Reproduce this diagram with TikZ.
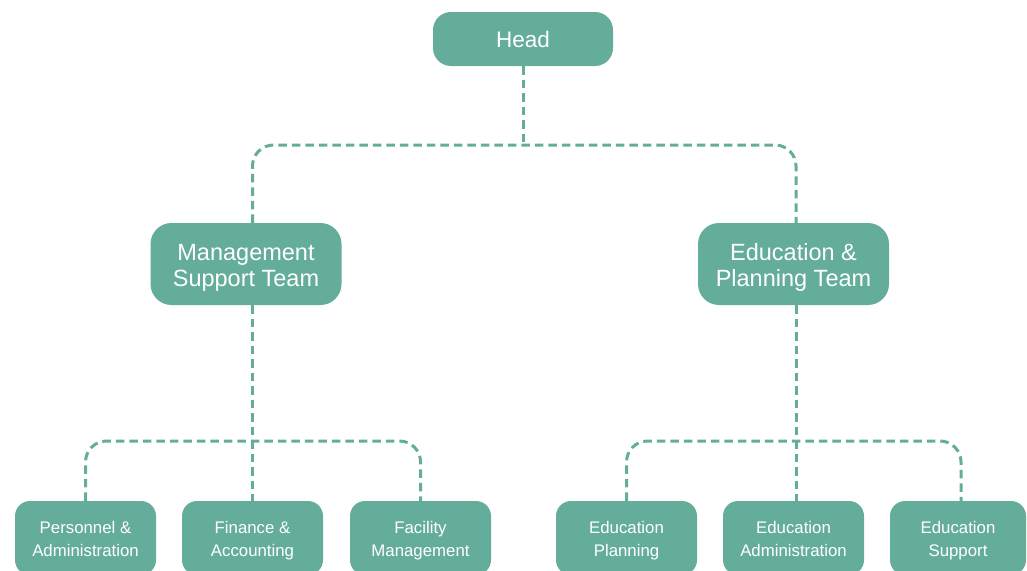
\documentclass[tikz,border=0pt]{standalone}
\usepackage{fontspec}
\setmainfont{Liberation Sans}
\definecolor{teal1}{RGB}{100,173,155}
\newcommand\tS[1]{\rule{0pt}{#1pt}}
\newcommand\bS[1]{\rule[-#1pt]{0pt}{#1pt}}
\begin{document}
\begin{tikzpicture}[x=1pt,y=-1pt,
  box/.style={fill=teal1,text=white,draw=none,inner sep=0pt,align=center},
  bigbox/.style={box,rounded corners=21pt,minimum width=191pt,minimum height=82pt,font=\fontsize{23.5}{26}\selectfont},
  headbox/.style={box,rounded corners=18pt,minimum width=180pt,minimum height=54pt,font=\fontsize{22.5}{26}\selectfont},
  smallbox/.style={box,rounded corners=15pt,minimum width=141pt,minimum height=74pt,font=\fontsize{16.8}{23.5}\selectfont},
  conn/.style={draw=teal1,line width=3pt,dash pattern=on 8.5pt off 5pt}]
\useasboundingbox (0,0) rectangle (1027,570);
\clip (0,0) rectangle (1027,570);
\node[headbox] (head) at (523,39) {Head};
\node[bigbox] (mgmt) at (246,264) {\tS{25.4}Management\\Support Team\bS{6}};
\node[bigbox] (edu) at (793.5,264) {\tS{25.4}Education \&\\Planning Team\bS{6}};
\node[smallbox] (pers) at (85.5,538) {\tS{17.5}Personnel \&\\Administration\bS{4}};
\node[smallbox] (fin) at (252.5,538) {\tS{17.5}Finance \&\\Accounting\bS{4}};
\node[smallbox] (fac) at (420.5,538) {\tS{17.5}Facility\\Management\bS{4}};
\node[smallbox] (eplan) at (626.5,538) {\tS{17.5}Education\\Planning\bS{4}};
\node[smallbox] (eadm) at (793.5,538) {\tS{17.5}Education\\Administration\bS{4}};
\node[smallbox, minimum width=136pt] (esup) at (958,538) {\tS{17.5}Education\\Support\bS{4}};
\coordinate (j1) at (523,145);
\coordinate (j2) at (0,441);
\coordinate (ea) at ([xshift=2.5pt]eadm.north);
\coordinate (es) at ([xshift=3pt]esup.north);
\draw[conn] (head.south) -- (j1);
\draw[conn,rounded corners=21pt] (fin.north |- mgmt.north) |- (ea |- j1) -- (ea |- edu.north);
\draw[conn] (fin.north |- mgmt.south) -- (fin.north);
\draw[conn] (ea |- edu.south) -- (ea);
\draw[conn,rounded corners=21pt] (pers.north) |- (fac.north |- j2) -- (fac.north);
\draw[conn,rounded corners=21pt] (eplan.north) |- (es |- j2) -- (es);
\end{tikzpicture}
\end{document}
